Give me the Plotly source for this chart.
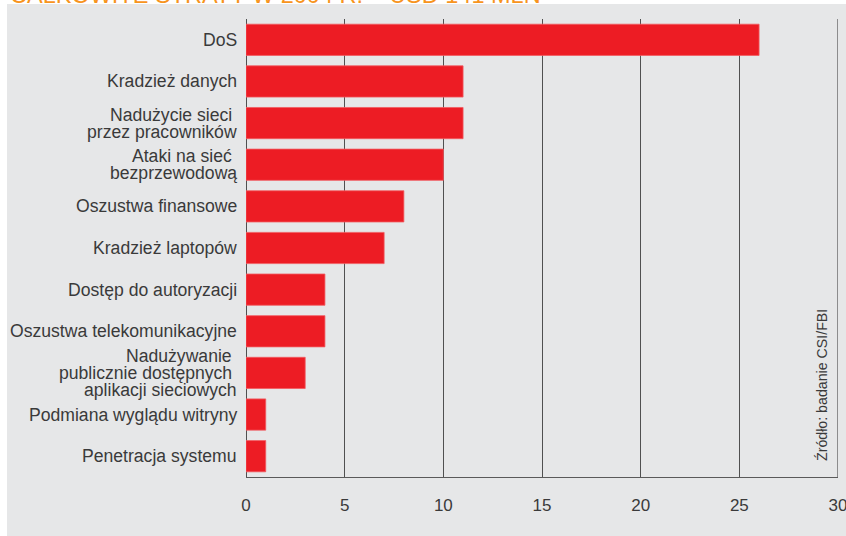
import plotly.graph_objects as go

# ---- data ----
categories = [
    "DoS",
    "Kradzież danych",
    "Nadużycie sieci\u00a0\nprzez pracowników",
    "Ataki na sieć\u00a0\nbezprzewodową",
    "Oszustwa finansowe",
    "Kradzież laptopów",
    "Dostęp do autoryzacji",
    "Oszustwa telekomunikacyjne",
    "Nadużywanie\u00a0\npublicznie dostępnych\u00a0\naplikacji sieciowych",
    "Podmiana wyglądu witryny",
    "Penetracja systemu",
]
values = [26, 11, 11, 10, 8, 7, 4, 4, 3, 1, 1]
x_ticks = [0, 5, 10, 15, 20, 25, 30]
x_max = 30
title_text = "CAŁKOWITE STRATY W 2004 R. – USD 141 MLN"
source_text = "Źródło: badanie CSI/FBI"

# ---- styling ----
W, H = 846, 536
L, R, T, B = 246, 8, 19, 59
plot_h = H - T - B
plot_w = W - L - R
BG = "#E6E7E8"
RED = "#ED1C24"
TXT = "#3a3a3a"
GRID = "#505050"
FONT = "Liberation Sans, Arial, sans-serif"

ids = list(range(len(categories)))

fig = go.Figure()
fig.add_trace(go.Bar(
    x=values, y=ids, orientation="h",
    marker=dict(color=RED, line=dict(color="#F15A60", width=0.8)),
    hoverinfo="x",
))

def px_to_paper_x(px):
    return (px - L) / plot_w

def px_to_paper_y(py):
    return (H - B - py) / plot_h

shapes = [
    # gray panel
    dict(
        type="rect", xref="paper", yref="paper",
        x0=px_to_paper_x(7), x1=px_to_paper_x(W + 2),
        y0=px_to_paper_y(H + 2), y1=px_to_paper_y(4),
        fillcolor=BG, line=dict(width=0), layer="below",
    ),
    # grid line at the right end of the axis
    dict(
        type="line", xref="x", yref="paper",
        x0=x_max, x1=x_max, y0=0, y1=1,
        line=dict(color=GRID, width=1.2), layer="below",
    ),
]

annotations = []
LINE_H = 17
for cid, lab in zip(ids, categories):
    lines = lab.split("\n")
    n = len(lines)
    for i, ln in enumerate(lines):
        annotations.append(dict(
            x=0, y=cid, xref="x", yref="y",
            text=ln, showarrow=False,
            xanchor="right", yanchor="middle",
            xshift=-7, yshift=((n - 1) / 2 - i) * LINE_H,
            font=dict(family=FONT, size=17.6, color=TXT),
        ))

# title (cut off at top of page)
annotations.append(dict(
    x=px_to_paper_x(8), y=1, xref="paper", yref="paper",
    text=title_text, showarrow=False,
    xanchor="left", yanchor="middle", yshift=T + 5,
    font=dict(family=FONT, size=23.5, color="#F7941D"),
))

# source, rotated
annotations.append(dict(
    x=px_to_paper_x(822), y=px_to_paper_y(385), xref="paper", yref="paper",
    text=source_text, showarrow=False, textangle=-90,
    xanchor="center", yanchor="middle",
    font=dict(family="Liberation Sans Narrow, Liberation Sans, Arial", size=14.2, color=TXT),
))

fig.update_layout(
    width=W, height=H,
    margin=dict(l=L, r=R, t=T, b=B, pad=0),
    paper_bgcolor="white",
    plot_bgcolor=BG,
    bargap=0.25,
    showlegend=False,
    shapes=shapes,
    annotations=annotations,
    xaxis=dict(
        range=[0, x_max], tickvals=x_ticks, ticktext=[str(v) for v in x_ticks],
        showgrid=True, gridcolor=GRID, gridwidth=1,
        zeroline=True, zerolinecolor=GRID, zerolinewidth=1,
        showline=True, linecolor="#5a5a5a", linewidth=1,
        ticks="", ticklabelstandoff=13, ticklabeloverflow="allow",
        automargin=False,
        tickfont=dict(family=FONT, size=17, color=TXT),
        fixedrange=True,
    ),
    yaxis=dict(
        tickvals=ids, showticklabels=False, autorange=False,
        range=[len(ids) - 0.5, -0.5],
        showgrid=False, zeroline=False, showline=False, ticks="",
        automargin=False, fixedrange=True,
    ),
)

fig.write_html("out.html")
